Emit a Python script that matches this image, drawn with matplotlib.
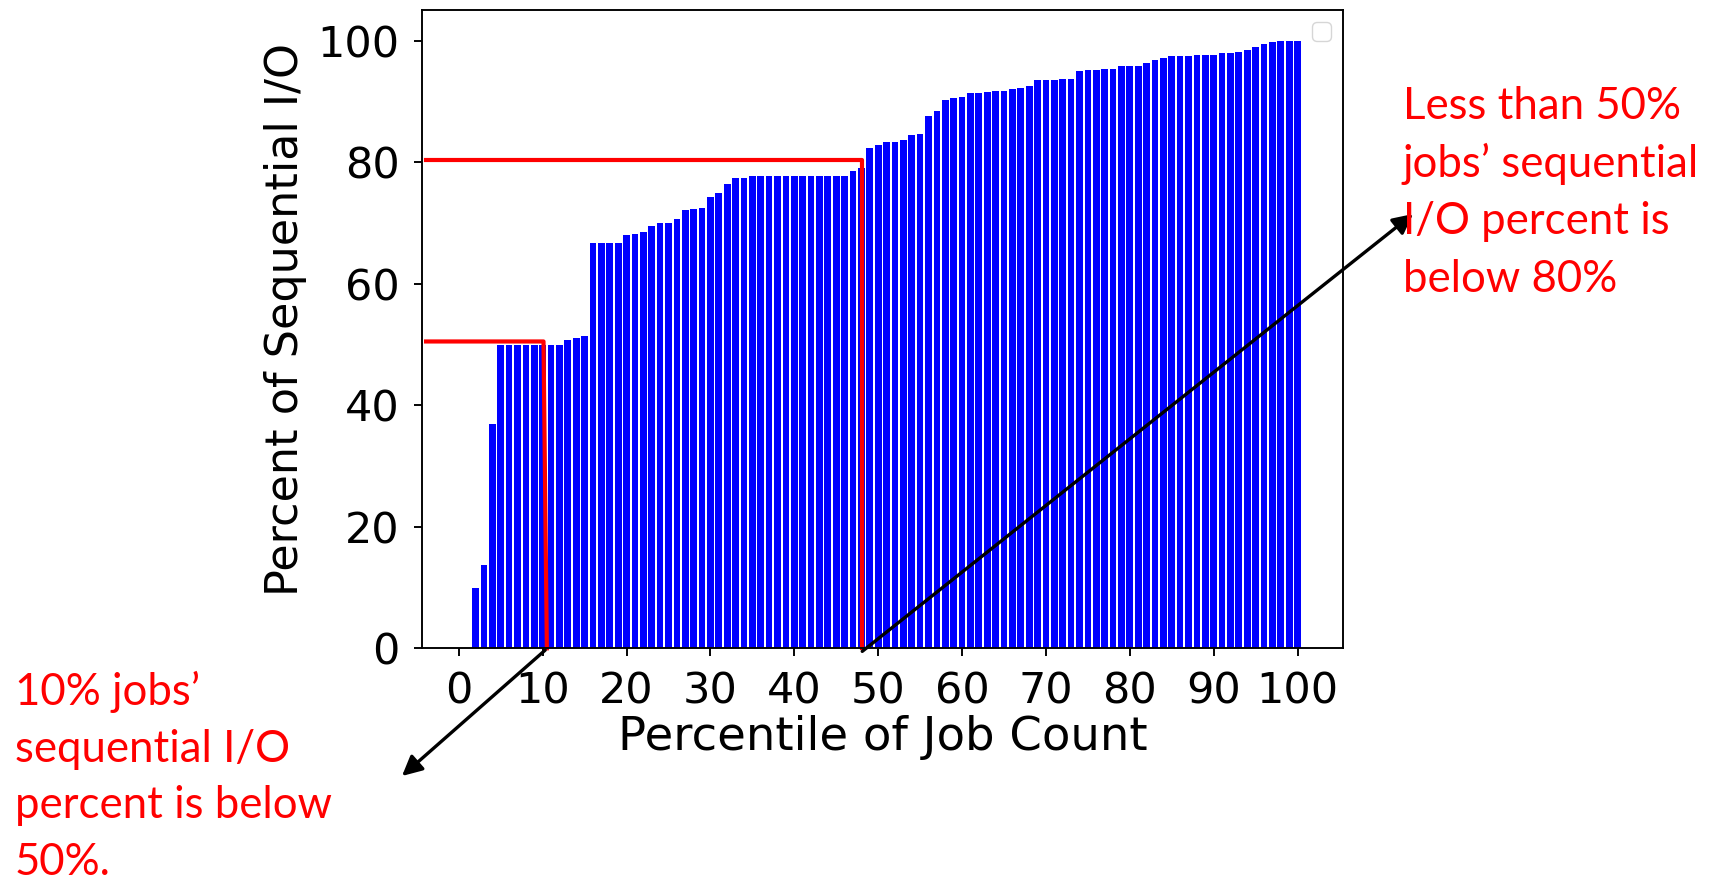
import matplotlib
matplotlib.use('Agg')
import matplotlib.pyplot as plt

# percentile of job count (1..100) and the sequential I/O percent at each
percentiles = list(range(1, 101))
seq_io_percent = [
    0.0, 10.0, 13.7, 36.9, 50.0, 50.0, 50.0, 50.0, 50.0, 50.0,
    50.0, 50.0, 50.7, 51.1, 51.4, 66.7, 66.7, 66.7, 66.7, 68.0,
    68.2, 68.5, 69.5, 70.0, 70.0, 70.6, 72.1, 72.3, 72.4, 74.3,
    75.0, 76.4, 77.4, 77.4, 77.8, 77.8, 77.8, 77.8, 77.8, 77.8,
    77.8, 77.8, 77.8, 77.8, 77.8, 77.8, 78.5, 79.0, 82.3, 82.8,
    83.3, 83.3, 83.7, 84.5, 84.7, 87.6, 88.5, 90.2, 90.5, 90.7,
    91.4, 91.4, 91.6, 91.8, 91.8, 92.0, 92.2, 92.6, 93.5, 93.5,
    93.5, 93.7, 93.7, 95.0, 95.2, 95.2, 95.3, 95.4, 95.8, 95.8,
    95.9, 96.3, 96.9, 97.1, 97.4, 97.4, 97.5, 97.6, 97.6, 97.7,
    97.9, 97.9, 98.1, 98.4, 99.0, 99.5, 99.8, 99.9, 99.9, 100.0,
]
xticks = list(range(0, 101, 10))
yticks = list(range(0, 101, 20))

# red guide lines (x, y) in data units
guide_10 = ([-3.9, 10.1, 10.5], [50.5, 50.5, 0])
guide_48 = ([-3.9, 48.1, 48.1], [80.3, 80.3, 0])

note_left = ["10% jobs\u2019", "sequential I/O", "percent is below", "50%."]
note_right = ["Less than 50%", "jobs\u2019 sequential", "I/O percent is", "below 80%"]

W, H = 1716, 881
fig = plt.figure(figsize=(W / 100, H / 100), dpi=100)
ax = fig.add_axes([0.2459, 0.2641, 0.5366, 0.7242])

ax.bar(percentiles, seq_io_percent, width=0.8, color='blue')
# freeze the limits the bars give, so the guides don't widen them
ax.set_xlim(ax.get_xlim())
ax.set_ylim(ax.get_ylim())
ax.plot(*guide_10, color='red', lw=3, clip_on=False)
ax.plot(*guide_48, color='red', lw=3, clip_on=False)

ax.set_xticks(xticks)
ax.set_yticks(yticks)
ax.tick_params(labelsize=31, length=6, width=1.37, pad=10)
for sp in ax.spines.values():
    sp.set_linewidth(1.37)
ax.set_xlabel('Percentile of Job Count', fontsize=33.5, labelpad=2)
ax.set_ylabel('Percent of Sequential I/O', fontsize=32, labelpad=8, y=0.516)
ax.legend(handles=[], loc='upper right', fontsize=17)

arrow = dict(arrowstyle='-|>', color='black', lw=2.4, mutation_scale=30,
             shrinkA=0, shrinkB=0)
ax.annotate('', xy=(402, H - 776), xycoords='figure pixels',
            xytext=(10.3, -0.3), textcoords='data',
            arrowprops=arrow, annotation_clip=False)
ax.annotate('', xy=(1413, H - 214), xycoords='figure pixels',
            xytext=(48.1, -0.5), textcoords='data',
            arrowprops=arrow, annotation_clip=False)

for i, line in enumerate(note_left):
    fig.text(15 / W, 1 - (705 + 56.7 * i) / H, line, color='red',
             fontsize=31.5, family='Lato', va='baseline', ha='left')
for i, line in enumerate(note_right):
    fig.text(1403 / W, 1 - (119 + 57.7 * i) / H, line, color='red',
             fontsize=31.5, family='Lato', va='baseline', ha='left')

fig.savefig('out.png', dpi=100)
